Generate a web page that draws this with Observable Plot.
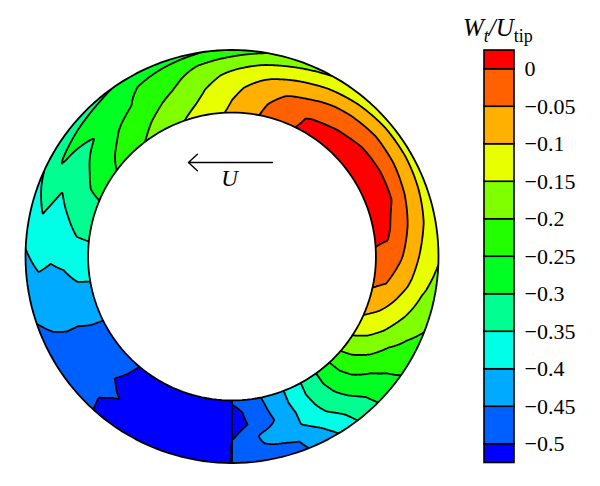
<!DOCTYPE html>
<html>
<head>
<meta charset="utf-8">
<script src="https://cdn.jsdelivr.net/npm/d3@7"></script>
<script src="https://cdn.jsdelivr.net/npm/@observablehq/plot@0.6"></script>
<style>
  body { margin: 0; background: white; }
  #chart { position: relative; width: 600px; height: 486px; overflow: hidden; }
  #ring, #bar { position: absolute; top: 0; }
  #ring { left: 0; }
  #bar { left: 470px; }
  #title { position: absolute; left: 463px; top: 14px; font: italic 25px "Liberation Serif", serif; white-space: nowrap; }
  #title sub { font-size: 18px; line-height: 0; }
  #title .tip { font-style: normal; }
</style>
</head>
<body>
<div id="chart">
  <div id="ring"></div>
  <div id="bar"></div>
  <div id="title">W<sub>t</sub>/U<sub class="tip">tip</sub></div>
</div>
<script>
// contour levels and their fills, bottom of the colour bar to the top
const levels = [-0.5, -0.45, -0.4, -0.35, -0.3, -0.25, -0.2, -0.15, -0.1, -0.05, 0];
const bandColors = ["#0000ff", "#0060ff", "#00aaff", "#00ffe6", "#00ff90", "#00ff22", "#22ff00", "#80ff00", "#e8ff00", "#ffb000", "#ff6000", "#ff0000"];
const barEnds = [-0.525, 0.025];

// angle in degrees, from the seam at the bottom, going round by the right
const angles = [0, 10, 20, 30, 40, 50, 60, 70, 80, 90, 100, 110, 120, 130, 140, 150, 160, 170, 180, 190, 200, 210, 220, 230, 240, 250, 260, 270, 280, 290, 300, 310, 320, 330, 340, 350, 360];
// position across the passage, hub (0) to casing (1)
const spans = [0, 0.2, 0.4, 0.6, 0.8, 1];

const span0 = [-0.49, -0.458, -0.407, -0.34, -0.27, -0.193, -0.13, -0.08, -0.04, -0.006, 0.01, 0.015, 0.02, 0.02, 0.015, 0.008, -0.012, -0.054, -0.09, -0.124, -0.152, -0.18, -0.208, -0.238, -0.275, -0.31, -0.338, -0.368, -0.4, -0.432, -0.46, -0.48, -0.5, -0.51, -0.515, -0.52, -0.52];
const span20 = [-0.52, -0.468, -0.408, -0.337, -0.272, -0.206, -0.148, -0.098, -0.05, -0.014, 0.01, 0.02, 0.025, 0.025, 0.02, 0.006, -0.025, -0.062, -0.1, -0.14, -0.17, -0.197, -0.226, -0.255, -0.287, -0.316, -0.342, -0.371, -0.402, -0.434, -0.461, -0.484, -0.503, -0.51, -0.515, -0.52, -0.52];
const span40 = [-0.525, -0.478, -0.416, -0.345, -0.282, -0.225, -0.17, -0.12, -0.08, -0.045, -0.02, 0.002, 0.006, 0.002, -0.01, -0.028, -0.045, -0.077, -0.115, -0.153, -0.188, -0.217, -0.243, -0.276, -0.308, -0.334, -0.36, -0.388, -0.414, -0.44, -0.463, -0.489, -0.507, -0.515, -0.52, -0.52, -0.52];
const span60 = [-0.505, -0.44, -0.413, -0.358, -0.3, -0.25, -0.2, -0.15, -0.108, -0.083, -0.06, -0.043, -0.033, -0.03, -0.04, -0.057, -0.08, -0.106, -0.137, -0.173, -0.21, -0.24, -0.268, -0.302, -0.327, -0.352, -0.376, -0.395, -0.417, -0.44, -0.4625, -0.48, -0.498, -0.51, -0.515, -0.515, -0.51];
const span80 = [-0.475, -0.455, -0.447, -0.387, -0.32, -0.264, -0.217, -0.178, -0.145, -0.121, -0.098, -0.085, -0.075, -0.073, -0.085, -0.102, -0.125, -0.148, -0.174, -0.2, -0.225, -0.252, -0.27, -0.28, -0.295, -0.328, -0.358, -0.387, -0.415, -0.444, -0.465, -0.488, -0.506, -0.51, -0.515, -0.51, -0.505];
const span100 = [-0.47, -0.465, -0.46, -0.408, -0.33, -0.27, -0.229, -0.195, -0.167, -0.145, -0.135, -0.128, -0.125, -0.128, -0.135, -0.148, -0.174, -0.2, -0.228, -0.254, -0.272, -0.29, -0.308, -0.324, -0.34, -0.359, -0.382, -0.405, -0.429, -0.452, -0.47, -0.489, -0.503, -0.51, -0.515, -0.515, -0.51];
const grid = [span0, span20, span40, span60, span80, span100];

const innerRadius = 0.697;
const arrowEnds = {x1: 0.196, x2: -0.211, y: 0.455};

// bilinear lookup in the angle/span table
function wake(x, y) {
  const r = Math.hypot(x, y);
  if (r < 0.68 || r > 1.015) return NaN;
  let a = Math.atan2(x, -y) * 180 / Math.PI;
  if (a < 0) a += 360;
  const s = Math.max(0, Math.min(0.9999, (r - innerRadius) / (1 - innerRadius))) * (spans.length - 1);
  const i = Math.floor(s), j = Math.min(35, Math.floor(a / 10));
  const u = s - i, v = a / 10 - j;
  const low = grid[i][j] * (1 - v) + grid[i][j + 1] * v;
  const high = grid[i + 1][j] * (1 - v) + grid[i + 1][j + 1] * v;
  return low * (1 - u) + high * u;
}

const circle = r => d3.range(0, 361, 2).map(a => ({
  x: r * Math.sin(a * Math.PI / 180),
  y: r * Math.cos(a * Math.PI / 180)
}));

const colorScale = {type: "threshold", domain: levels, range: bandColors};
const xDomain = [-231.5 / 206.5, 238.5 / 206.5];
const yDomain = [-230 / 206.5, 256 / 206.5];

const ring = Plot.plot({
  width: 470,
  height: 486,
  margin: 0,
  x: {domain: xDomain, axis: null},
  y: {domain: yDomain, axis: null},
  color: colorScale,
  marks: [
    Plot.contour({
      x1: -1.03, x2: 1.03, y1: -1.03, y2: 1.03,
      pixelSize: 1,
      fill: wake,
      thresholds: [-1, ...levels],
      stroke: "black",
      strokeWidth: 1.8
    }),
    Plot.line(circle(1.03), {x: "x", y: "y", stroke: "white", strokeWidth: 13}),
    Plot.line(circle(1), {x: "x", y: "y", stroke: "black", strokeWidth: 1.8}),
    Plot.line(circle(innerRadius), {x: "x", y: "y", fill: "white", stroke: "black", strokeWidth: 1.8}),
    Plot.ruleX([0], {y1: -1, y2: -innerRadius, stroke: "black", strokeWidth: 1.8}),
    Plot.arrow([arrowEnds], {x1: "x1", x2: "x2", y1: "y", y2: "y", stroke: "black", strokeWidth: 1.4, headLength: 13, headAngle: 85}),
    Plot.text(["U"], {x: [-0.012], y: [0.378], fontFamily: "Liberation Serif", fontStyle: "italic", fontSize: 23, fill: "black"})
  ]
});
document.getElementById("ring").append(ring);

const edges = [barEnds[0], ...levels, barEnds[1]];
const bands = d3.pairs(edges).map(([lo, hi]) => ({lo, hi}));

const bar = Plot.plot({
  width: 130,
  height: 486,
  marginTop: 50,
  marginBottom: 23.5,
  marginLeft: 14,
  marginRight: 86,
  x: {domain: [0, 1], axis: null},
  y: {domain: barEnds, axis: null},
  color: colorScale,
  marks: [
    Plot.rect(bands, {x1: 0, x2: 1, y1: "lo", y2: "hi", fill: "lo", stroke: "black", strokeWidth: 1.6}),
    Plot.axisY(levels, {
      anchor: "right",
      label: null,
      tickSize: 0,
      tickPadding: 10,
      tickFormat: d => d === 0 ? "0" : "\u2212" + String(-d),
      fontSize: 22,
      fontFamily: "Liberation Serif",
      fill: "black"
    })
  ]
});
document.getElementById("bar").append(bar);
</script>
</body>
</html>
